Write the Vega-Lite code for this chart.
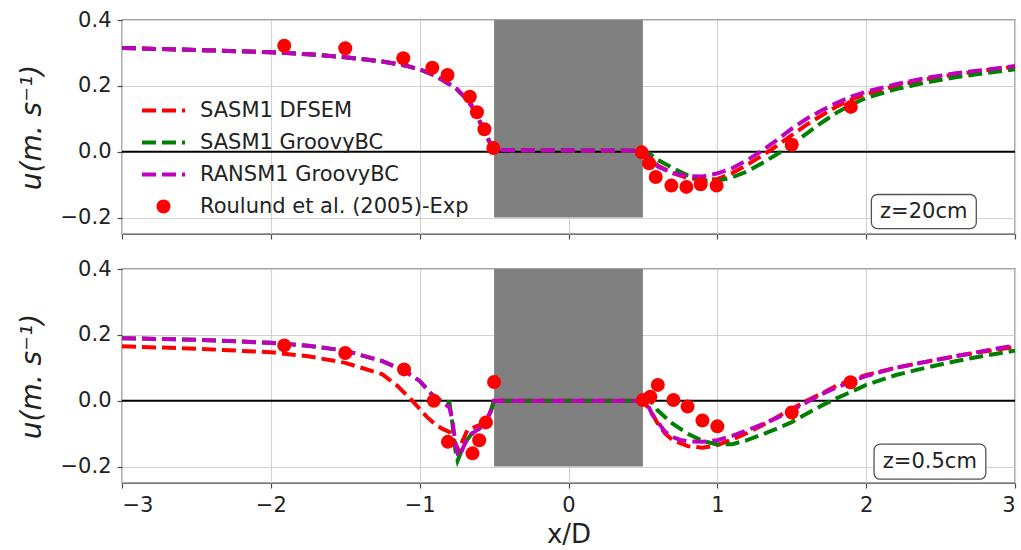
{
  "$schema": "https://vega.github.io/schema/vega-lite/v6.json",
  "autosize": {"type": "pad"},
  "padding": {"left": 17, "top": 8, "right": 0, "bottom": 0},
  "bounds": "flush",
  "spacing": 35,
  "config": {
    "font": "DejaVu Sans",
    "view": {"stroke": "#4a4a4a", "strokeWidth": 1.3},
    "axis": {
      "grid": true,
      "gridColor": "#d2d2d2",
      "gridWidth": 1.2,
      "domain": false,
      "tickColor": "#4a4a4a",
      "tickSize": 5,
      "tickWidth": 1.2,
      "labelFont": "DejaVu Sans",
      "labelFontSize": 21,
      "labelColor": "#222222",
      "labelPadding": 6,
      "titleFont": "DejaVu Sans",
      "titleFontSize": 26,
      "titleFontWeight": "normal",
      "titleColor": "#222222",
      "zindex": 1
    }
  },
  "datasets": {
    "top_note": [{"label": "z=20cm"}],
    "bot_note": [{"label": "z=0.5cm"}],
    "top_lines": [
      {"series": "SASM1 DFSEM", "x": -3, "u": 0.315}, {"series": "SASM1 DFSEM", "x": -2.5, "u": 0.309}, {"series": "SASM1 DFSEM", "x": -2, "u": 0.302}, {"series": "SASM1 DFSEM", "x": -1.75, "u": 0.296}, {"series": "SASM1 DFSEM", "x": -1.5, "u": 0.287}, {"series": "SASM1 DFSEM", "x": -1.25, "u": 0.274}, {"series": "SASM1 DFSEM", "x": -1.1, "u": 0.262}, {"series": "SASM1 DFSEM", "x": -1, "u": 0.25}, {"series": "SASM1 DFSEM", "x": -0.9, "u": 0.232}, {"series": "SASM1 DFSEM", "x": -0.8, "u": 0.205}, {"series": "SASM1 DFSEM", "x": -0.75, "u": 0.19}, {"series": "SASM1 DFSEM", "x": -0.7, "u": 0.167}, {"series": "SASM1 DFSEM", "x": -0.65, "u": 0.139}, {"series": "SASM1 DFSEM", "x": -0.6, "u": 0.095}, {"series": "SASM1 DFSEM", "x": -0.55, "u": 0.048}, {"series": "SASM1 DFSEM", "x": -0.52, "u": 0.02}, {"series": "SASM1 DFSEM", "x": -0.5, "u": 0.005}, {"series": "SASM1 DFSEM", "x": 0.5, "u": 0.003}, {"series": "SASM1 DFSEM", "x": 0.55, "u": -0.02}, {"series": "SASM1 DFSEM", "x": 0.6, "u": -0.042}, {"series": "SASM1 DFSEM", "x": 0.7, "u": -0.065}, {"series": "SASM1 DFSEM", "x": 0.8, "u": -0.08}, {"series": "SASM1 DFSEM", "x": 0.9, "u": -0.085}, {"series": "SASM1 DFSEM", "x": 1.0, "u": -0.083}, {"series": "SASM1 DFSEM", "x": 1.1, "u": -0.065}, {"series": "SASM1 DFSEM", "x": 1.2, "u": -0.04}, {"series": "SASM1 DFSEM", "x": 1.3, "u": -0.012}, {"series": "SASM1 DFSEM", "x": 1.4, "u": 0.018}, {"series": "SASM1 DFSEM", "x": 1.5, "u": 0.05}, {"series": "SASM1 DFSEM", "x": 1.6, "u": 0.082}, {"series": "SASM1 DFSEM", "x": 1.7, "u": 0.11}, {"series": "SASM1 DFSEM", "x": 1.8, "u": 0.137}, {"series": "SASM1 DFSEM", "x": 1.9, "u": 0.158}, {"series": "SASM1 DFSEM", "x": 2.0, "u": 0.175}, {"series": "SASM1 DFSEM", "x": 2.2, "u": 0.2}, {"series": "SASM1 DFSEM", "x": 2.4, "u": 0.22}, {"series": "SASM1 DFSEM", "x": 2.6, "u": 0.235}, {"series": "SASM1 DFSEM", "x": 2.8, "u": 0.247}, {"series": "SASM1 DFSEM", "x": 3.0, "u": 0.258},
      {"series": "SASM1 GroovyBC", "x": -3, "u": 0.315}, {"series": "SASM1 GroovyBC", "x": -2.5, "u": 0.309}, {"series": "SASM1 GroovyBC", "x": -2, "u": 0.302}, {"series": "SASM1 GroovyBC", "x": -1.75, "u": 0.296}, {"series": "SASM1 GroovyBC", "x": -1.5, "u": 0.287}, {"series": "SASM1 GroovyBC", "x": -1.25, "u": 0.274}, {"series": "SASM1 GroovyBC", "x": -1.1, "u": 0.262}, {"series": "SASM1 GroovyBC", "x": -1, "u": 0.25}, {"series": "SASM1 GroovyBC", "x": -0.9, "u": 0.232}, {"series": "SASM1 GroovyBC", "x": -0.8, "u": 0.205}, {"series": "SASM1 GroovyBC", "x": -0.75, "u": 0.19}, {"series": "SASM1 GroovyBC", "x": -0.7, "u": 0.167}, {"series": "SASM1 GroovyBC", "x": -0.65, "u": 0.139}, {"series": "SASM1 GroovyBC", "x": -0.6, "u": 0.095}, {"series": "SASM1 GroovyBC", "x": -0.55, "u": 0.048}, {"series": "SASM1 GroovyBC", "x": -0.52, "u": 0.02}, {"series": "SASM1 GroovyBC", "x": -0.5, "u": 0.005}, {"series": "SASM1 GroovyBC", "x": 0.5, "u": 0.003}, {"series": "SASM1 GroovyBC", "x": 0.55, "u": -0.008}, {"series": "SASM1 GroovyBC", "x": 0.6, "u": -0.025}, {"series": "SASM1 GroovyBC", "x": 0.7, "u": -0.05}, {"series": "SASM1 GroovyBC", "x": 0.8, "u": -0.072}, {"series": "SASM1 GroovyBC", "x": 0.9, "u": -0.087}, {"series": "SASM1 GroovyBC", "x": 1.0, "u": -0.088}, {"series": "SASM1 GroovyBC", "x": 1.1, "u": -0.078}, {"series": "SASM1 GroovyBC", "x": 1.2, "u": -0.06}, {"series": "SASM1 GroovyBC", "x": 1.3, "u": -0.035}, {"series": "SASM1 GroovyBC", "x": 1.4, "u": -0.008}, {"series": "SASM1 GroovyBC", "x": 1.5, "u": 0.022}, {"series": "SASM1 GroovyBC", "x": 1.6, "u": 0.055}, {"series": "SASM1 GroovyBC", "x": 1.7, "u": 0.088}, {"series": "SASM1 GroovyBC", "x": 1.8, "u": 0.118}, {"series": "SASM1 GroovyBC", "x": 1.9, "u": 0.143}, {"series": "SASM1 GroovyBC", "x": 2.0, "u": 0.163}, {"series": "SASM1 GroovyBC", "x": 2.2, "u": 0.19}, {"series": "SASM1 GroovyBC", "x": 2.4, "u": 0.21}, {"series": "SASM1 GroovyBC", "x": 2.6, "u": 0.226}, {"series": "SASM1 GroovyBC", "x": 2.8, "u": 0.239}, {"series": "SASM1 GroovyBC", "x": 3.0, "u": 0.25},
      {"series": "RANSM1 GroovyBC", "x": -3, "u": 0.315}, {"series": "RANSM1 GroovyBC", "x": -2.5, "u": 0.309}, {"series": "RANSM1 GroovyBC", "x": -2, "u": 0.302}, {"series": "RANSM1 GroovyBC", "x": -1.75, "u": 0.296}, {"series": "RANSM1 GroovyBC", "x": -1.5, "u": 0.287}, {"series": "RANSM1 GroovyBC", "x": -1.25, "u": 0.274}, {"series": "RANSM1 GroovyBC", "x": -1.1, "u": 0.262}, {"series": "RANSM1 GroovyBC", "x": -1, "u": 0.25}, {"series": "RANSM1 GroovyBC", "x": -0.9, "u": 0.232}, {"series": "RANSM1 GroovyBC", "x": -0.8, "u": 0.205}, {"series": "RANSM1 GroovyBC", "x": -0.75, "u": 0.19}, {"series": "RANSM1 GroovyBC", "x": -0.7, "u": 0.167}, {"series": "RANSM1 GroovyBC", "x": -0.65, "u": 0.139}, {"series": "RANSM1 GroovyBC", "x": -0.6, "u": 0.095}, {"series": "RANSM1 GroovyBC", "x": -0.55, "u": 0.048}, {"series": "RANSM1 GroovyBC", "x": -0.52, "u": 0.02}, {"series": "RANSM1 GroovyBC", "x": -0.5, "u": 0.005}, {"series": "RANSM1 GroovyBC", "x": 0.5, "u": 0.003}, {"series": "RANSM1 GroovyBC", "x": 0.55, "u": -0.02}, {"series": "RANSM1 GroovyBC", "x": 0.6, "u": -0.045}, {"series": "RANSM1 GroovyBC", "x": 0.7, "u": -0.065}, {"series": "RANSM1 GroovyBC", "x": 0.8, "u": -0.074}, {"series": "RANSM1 GroovyBC", "x": 0.9, "u": -0.075}, {"series": "RANSM1 GroovyBC", "x": 1.0, "u": -0.066}, {"series": "RANSM1 GroovyBC", "x": 1.1, "u": -0.05}, {"series": "RANSM1 GroovyBC", "x": 1.2, "u": -0.026}, {"series": "RANSM1 GroovyBC", "x": 1.3, "u": 0.003}, {"series": "RANSM1 GroovyBC", "x": 1.4, "u": 0.035}, {"series": "RANSM1 GroovyBC", "x": 1.5, "u": 0.07}, {"series": "RANSM1 GroovyBC", "x": 1.6, "u": 0.1}, {"series": "RANSM1 GroovyBC", "x": 1.7, "u": 0.125}, {"series": "RANSM1 GroovyBC", "x": 1.8, "u": 0.148}, {"series": "RANSM1 GroovyBC", "x": 1.9, "u": 0.167}, {"series": "RANSM1 GroovyBC", "x": 2.0, "u": 0.182}, {"series": "RANSM1 GroovyBC", "x": 2.2, "u": 0.205}, {"series": "RANSM1 GroovyBC", "x": 2.4, "u": 0.224}, {"series": "RANSM1 GroovyBC", "x": 2.6, "u": 0.238}, {"series": "RANSM1 GroovyBC", "x": 2.8, "u": 0.249}, {"series": "RANSM1 GroovyBC", "x": 3.0, "u": 0.26}
    ],
    "top_pts": [
      {"series": "Roulund et al. (2005)-Exp", "x": -1.91, "u": 0.322}, {"series": "Roulund et al. (2005)-Exp", "x": -1.5, "u": 0.314}, {"series": "Roulund et al. (2005)-Exp", "x": -1.11, "u": 0.284}, {"series": "Roulund et al. (2005)-Exp", "x": -0.915, "u": 0.255}, {"series": "Roulund et al. (2005)-Exp", "x": -0.813, "u": 0.233}, {"series": "Roulund et al. (2005)-Exp", "x": -0.663, "u": 0.167}, {"series": "Roulund et al. (2005)-Exp", "x": -0.615, "u": 0.12}, {"series": "Roulund et al. (2005)-Exp", "x": -0.565, "u": 0.068}, {"series": "Roulund et al. (2005)-Exp", "x": -0.505, "u": 0.011},
      {"series": "Roulund et al. (2005)-Exp", "x": 0.492, "u": -0.002}, {"series": "Roulund et al. (2005)-Exp", "x": 0.541, "u": -0.035}, {"series": "Roulund et al. (2005)-Exp", "x": 0.586, "u": -0.077}, {"series": "Roulund et al. (2005)-Exp", "x": 0.691, "u": -0.103}, {"series": "Roulund et al. (2005)-Exp", "x": 0.792, "u": -0.107}, {"series": "Roulund et al. (2005)-Exp", "x": 0.888, "u": -0.099}, {"series": "Roulund et al. (2005)-Exp", "x": 0.995, "u": -0.103}, {"series": "Roulund et al. (2005)-Exp", "x": 1.5, "u": 0.021}, {"series": "Roulund et al. (2005)-Exp", "x": 1.897, "u": 0.136}
    ],
    "bot_lines": [
      {"series": "SASM1 DFSEM", "x": -3, "u": 0.165}, {"series": "SASM1 DFSEM", "x": -2.5, "u": 0.158}, {"series": "SASM1 DFSEM", "x": -2, "u": 0.147}, {"series": "SASM1 DFSEM", "x": -1.75, "u": 0.135}, {"series": "SASM1 DFSEM", "x": -1.5, "u": 0.115}, {"series": "SASM1 DFSEM", "x": -1.25, "u": 0.08}, {"series": "SASM1 DFSEM", "x": -1.15, "u": 0.045}, {"series": "SASM1 DFSEM", "x": -1.05, "u": 0.0}, {"series": "SASM1 DFSEM", "x": -0.95, "u": -0.05}, {"series": "SASM1 DFSEM", "x": -0.9, "u": -0.07}, {"series": "SASM1 DFSEM", "x": -0.85, "u": -0.085}, {"series": "SASM1 DFSEM", "x": -0.8, "u": -0.095}, {"series": "SASM1 DFSEM", "x": -0.76, "u": -0.13}, {"series": "SASM1 DFSEM", "x": -0.74, "u": -0.15}, {"series": "SASM1 DFSEM", "x": -0.71, "u": -0.12}, {"series": "SASM1 DFSEM", "x": -0.68, "u": -0.09}, {"series": "SASM1 DFSEM", "x": -0.63, "u": -0.08}, {"series": "SASM1 DFSEM", "x": -0.58, "u": -0.07}, {"series": "SASM1 DFSEM", "x": -0.53, "u": -0.04}, {"series": "SASM1 DFSEM", "x": -0.5, "u": 0.0}, {"series": "SASM1 DFSEM", "x": 0.5, "u": 0.0}, {"series": "SASM1 DFSEM", "x": 0.55, "u": -0.03}, {"series": "SASM1 DFSEM", "x": 0.6, "u": -0.07}, {"series": "SASM1 DFSEM", "x": 0.65, "u": -0.1}, {"series": "SASM1 DFSEM", "x": 0.7, "u": -0.12}, {"series": "SASM1 DFSEM", "x": 0.8, "u": -0.138}, {"series": "SASM1 DFSEM", "x": 0.9, "u": -0.143}, {"series": "SASM1 DFSEM", "x": 1.0, "u": -0.135}, {"series": "SASM1 DFSEM", "x": 1.1, "u": -0.118}, {"series": "SASM1 DFSEM", "x": 1.2, "u": -0.098}, {"series": "SASM1 DFSEM", "x": 1.3, "u": -0.075}, {"series": "SASM1 DFSEM", "x": 1.4, "u": -0.05}, {"series": "SASM1 DFSEM", "x": 1.5, "u": -0.025}, {"series": "SASM1 DFSEM", "x": 1.6, "u": 0.0}, {"series": "SASM1 DFSEM", "x": 1.7, "u": 0.022}, {"series": "SASM1 DFSEM", "x": 1.8, "u": 0.045}, {"series": "SASM1 DFSEM", "x": 1.9, "u": 0.063}, {"series": "SASM1 DFSEM", "x": 2.0, "u": 0.078}, {"series": "SASM1 DFSEM", "x": 2.2, "u": 0.1}, {"series": "SASM1 DFSEM", "x": 2.4, "u": 0.118}, {"series": "SASM1 DFSEM", "x": 2.6, "u": 0.135}, {"series": "SASM1 DFSEM", "x": 2.8, "u": 0.15}, {"series": "SASM1 DFSEM", "x": 3.0, "u": 0.163},
      {"series": "SASM1 GroovyBC", "x": -3, "u": 0.19}, {"series": "SASM1 GroovyBC", "x": -2.5, "u": 0.185}, {"series": "SASM1 GroovyBC", "x": -2, "u": 0.176}, {"series": "SASM1 GroovyBC", "x": -1.75, "u": 0.167}, {"series": "SASM1 GroovyBC", "x": -1.5, "u": 0.152}, {"series": "SASM1 GroovyBC", "x": -1.25, "u": 0.12}, {"series": "SASM1 GroovyBC", "x": -1.1, "u": 0.09}, {"series": "SASM1 GroovyBC", "x": -1.0, "u": 0.06}, {"series": "SASM1 GroovyBC", "x": -0.95, "u": 0.035}, {"series": "SASM1 GroovyBC", "x": -0.9, "u": 0.01}, {"series": "SASM1 GroovyBC", "x": -0.85, "u": 0.0}, {"series": "SASM1 GroovyBC", "x": -0.8, "u": -0.005}, {"series": "SASM1 GroovyBC", "x": -0.78, "u": -0.07}, {"series": "SASM1 GroovyBC", "x": -0.76, "u": -0.15}, {"series": "SASM1 GroovyBC", "x": -0.745, "u": -0.182}, {"series": "SASM1 GroovyBC", "x": -0.73, "u": -0.165}, {"series": "SASM1 GroovyBC", "x": -0.7, "u": -0.13}, {"series": "SASM1 GroovyBC", "x": -0.65, "u": -0.1}, {"series": "SASM1 GroovyBC", "x": -0.6, "u": -0.085}, {"series": "SASM1 GroovyBC", "x": -0.55, "u": -0.06}, {"series": "SASM1 GroovyBC", "x": -0.52, "u": -0.03}, {"series": "SASM1 GroovyBC", "x": -0.5, "u": 0.0}, {"series": "SASM1 GroovyBC", "x": 0.5, "u": 0.0}, {"series": "SASM1 GroovyBC", "x": 0.55, "u": 0.0}, {"series": "SASM1 GroovyBC", "x": 0.6, "u": -0.03}, {"series": "SASM1 GroovyBC", "x": 0.65, "u": -0.05}, {"series": "SASM1 GroovyBC", "x": 0.7, "u": -0.07}, {"series": "SASM1 GroovyBC", "x": 0.8, "u": -0.1}, {"series": "SASM1 GroovyBC", "x": 0.9, "u": -0.122}, {"series": "SASM1 GroovyBC", "x": 1.0, "u": -0.133}, {"series": "SASM1 GroovyBC", "x": 1.1, "u": -0.132}, {"series": "SASM1 GroovyBC", "x": 1.2, "u": -0.12}, {"series": "SASM1 GroovyBC", "x": 1.3, "u": -0.103}, {"series": "SASM1 GroovyBC", "x": 1.4, "u": -0.085}, {"series": "SASM1 GroovyBC", "x": 1.5, "u": -0.065}, {"series": "SASM1 GroovyBC", "x": 1.6, "u": -0.04}, {"series": "SASM1 GroovyBC", "x": 1.7, "u": -0.015}, {"series": "SASM1 GroovyBC", "x": 1.8, "u": 0.007}, {"series": "SASM1 GroovyBC", "x": 1.9, "u": 0.027}, {"series": "SASM1 GroovyBC", "x": 2.0, "u": 0.048}, {"series": "SASM1 GroovyBC", "x": 2.2, "u": 0.078}, {"series": "SASM1 GroovyBC", "x": 2.4, "u": 0.1}, {"series": "SASM1 GroovyBC", "x": 2.6, "u": 0.12}, {"series": "SASM1 GroovyBC", "x": 2.8, "u": 0.137}, {"series": "SASM1 GroovyBC", "x": 3.0, "u": 0.152},
      {"series": "RANSM1 GroovyBC", "x": -3, "u": 0.19}, {"series": "RANSM1 GroovyBC", "x": -2.5, "u": 0.185}, {"series": "RANSM1 GroovyBC", "x": -2, "u": 0.176}, {"series": "RANSM1 GroovyBC", "x": -1.75, "u": 0.167}, {"series": "RANSM1 GroovyBC", "x": -1.5, "u": 0.152}, {"series": "RANSM1 GroovyBC", "x": -1.25, "u": 0.12}, {"series": "RANSM1 GroovyBC", "x": -1.1, "u": 0.09}, {"series": "RANSM1 GroovyBC", "x": -1.0, "u": 0.06}, {"series": "RANSM1 GroovyBC", "x": -0.95, "u": 0.035}, {"series": "RANSM1 GroovyBC", "x": -0.9, "u": 0.01}, {"series": "RANSM1 GroovyBC", "x": -0.85, "u": -0.005}, {"series": "RANSM1 GroovyBC", "x": -0.8, "u": -0.02}, {"series": "RANSM1 GroovyBC", "x": -0.78, "u": -0.06}, {"series": "RANSM1 GroovyBC", "x": -0.76, "u": -0.13}, {"series": "RANSM1 GroovyBC", "x": -0.74, "u": -0.17}, {"series": "RANSM1 GroovyBC", "x": -0.72, "u": -0.155}, {"series": "RANSM1 GroovyBC", "x": -0.69, "u": -0.125}, {"series": "RANSM1 GroovyBC", "x": -0.65, "u": -0.1}, {"series": "RANSM1 GroovyBC", "x": -0.6, "u": -0.085}, {"series": "RANSM1 GroovyBC", "x": -0.55, "u": -0.06}, {"series": "RANSM1 GroovyBC", "x": -0.52, "u": -0.03}, {"series": "RANSM1 GroovyBC", "x": -0.5, "u": 0.0}, {"series": "RANSM1 GroovyBC", "x": 0.5, "u": 0.0}, {"series": "RANSM1 GroovyBC", "x": 0.53, "u": -0.01}, {"series": "RANSM1 GroovyBC", "x": 0.56, "u": -0.04}, {"series": "RANSM1 GroovyBC", "x": 0.6, "u": -0.065}, {"series": "RANSM1 GroovyBC", "x": 0.65, "u": -0.095}, {"series": "RANSM1 GroovyBC", "x": 0.7, "u": -0.11}, {"series": "RANSM1 GroovyBC", "x": 0.75, "u": -0.119}, {"series": "RANSM1 GroovyBC", "x": 0.8, "u": -0.123}, {"series": "RANSM1 GroovyBC", "x": 0.9, "u": -0.125}, {"series": "RANSM1 GroovyBC", "x": 1.0, "u": -0.12}, {"series": "RANSM1 GroovyBC", "x": 1.1, "u": -0.107}, {"series": "RANSM1 GroovyBC", "x": 1.2, "u": -0.09}, {"series": "RANSM1 GroovyBC", "x": 1.3, "u": -0.072}, {"series": "RANSM1 GroovyBC", "x": 1.4, "u": -0.052}, {"series": "RANSM1 GroovyBC", "x": 1.5, "u": -0.03}, {"series": "RANSM1 GroovyBC", "x": 1.6, "u": -0.005}, {"series": "RANSM1 GroovyBC", "x": 1.7, "u": 0.02}, {"series": "RANSM1 GroovyBC", "x": 1.8, "u": 0.04}, {"series": "RANSM1 GroovyBC", "x": 1.9, "u": 0.058}, {"series": "RANSM1 GroovyBC", "x": 2.0, "u": 0.075}, {"series": "RANSM1 GroovyBC", "x": 2.2, "u": 0.1}, {"series": "RANSM1 GroovyBC", "x": 2.4, "u": 0.118}, {"series": "RANSM1 GroovyBC", "x": 2.6, "u": 0.135}, {"series": "RANSM1 GroovyBC", "x": 2.8, "u": 0.152}, {"series": "RANSM1 GroovyBC", "x": 3.0, "u": 0.168}
    ],
    "bot_pts": [
      {"series": "Roulund et al. (2005)-Exp", "x": -1.91, "u": 0.168}, {"series": "Roulund et al. (2005)-Exp", "x": -1.5, "u": 0.145}, {"series": "Roulund et al. (2005)-Exp", "x": -1.105, "u": 0.095}, {"series": "Roulund et al. (2005)-Exp", "x": -0.905, "u": 0.0}, {"series": "Roulund et al. (2005)-Exp", "x": -0.81, "u": -0.125}, {"series": "Roulund et al. (2005)-Exp", "x": -0.645, "u": -0.16}, {"series": "Roulund et al. (2005)-Exp", "x": -0.6, "u": -0.12}, {"series": "Roulund et al. (2005)-Exp", "x": -0.555, "u": -0.066}, {"series": "Roulund et al. (2005)-Exp", "x": -0.5, "u": 0.057},
      {"series": "Roulund et al. (2005)-Exp", "x": 0.5, "u": 0.002}, {"series": "Roulund et al. (2005)-Exp", "x": 0.55, "u": 0.012}, {"series": "Roulund et al. (2005)-Exp", "x": 0.6, "u": 0.048}, {"series": "Roulund et al. (2005)-Exp", "x": 0.705, "u": 0.002}, {"series": "Roulund et al. (2005)-Exp", "x": 0.8, "u": -0.018}, {"series": "Roulund et al. (2005)-Exp", "x": 0.9, "u": -0.06}, {"series": "Roulund et al. (2005)-Exp", "x": 1.0, "u": -0.078}, {"series": "Roulund et al. (2005)-Exp", "x": 1.5, "u": -0.036}, {"series": "Roulund et al. (2005)-Exp", "x": 1.895, "u": 0.056}
    ]
  },
  "vconcat": [
    {
      "width": 893,
      "height": 214,
      "layer": [
        {
          "data": {"name": "top_note"},
          "mark": {"type": "rect", "fill": "#808080"},
          "encoding": {
            "x": {"datum": -0.5, "type": "quantitative", "scale": {"domain": [-3, 3], "nice": false, "zero": false},
                  "axis": {"values": [-3, -2, -1, 0, 1, 2, 3], "labels": false, "title": null}},
            "x2": {"datum": 0.5},
            "y": {"datum": -0.2, "type": "quantitative", "scale": {"domain": [-0.25, 0.4], "nice": false, "zero": false},
                  "axis": {"values": [-0.2, 0, 0.2, 0.4], "format": ".1f", "title": "u(m. s⁻¹)", "titleFontStyle": "italic", "titleFontSize": 28, "titlePadding": 14,
                           "gridOpacity": {"condition": {"test": "datum.value === 0", "value": 0}, "value": 1}}},
            "y2": {"datum": 0.4}
          }
        },
        {
          "data": {"name": "top_note"},
          "mark": {"type": "rule", "color": "black", "strokeWidth": 2},
          "encoding": {"y": {"datum": 0, "type": "quantitative"}}
        },
        {
          "data": {"name": "top_lines"},
          "mark": {"type": "line", "strokeDash": [14, 6], "strokeWidth": 4},
          "encoding": {
            "x": {"field": "x", "type": "quantitative"},
            "y": {"field": "u", "type": "quantitative"},
            "color": {
              "field": "series", "type": "nominal",
              "scale": {"domain": ["SASM1 DFSEM", "SASM1 GroovyBC", "RANSM1 GroovyBC", "Roulund et al. (2005)-Exp"], "range": ["#ff0000", "#008000", "#bf00bf", "#ff0000"]},
              "sort": ["SASM1 DFSEM", "SASM1 GroovyBC", "RANSM1 GroovyBC", "Roulund et al. (2005)-Exp"],
              "legend": {
                "orient": "none", "legendX": 31, "legendY": 80, "title": null, "padding": 0,
                "labelFont": "DejaVu Sans", "labelFontSize": 21, "labelColor": "#222222", "labelLimit": 500,
                "labelOffset": 26, "rowPadding": 10, "symbolSize": 1849, "symbolStrokeWidth": 4,
                "encode": {
                  "symbols": {
                    "update": {
                      "shape": {"signal": "datum.value === 'Roulund et al. (2005)-Exp' ? 'circle' : 'stroke'"},
                      "size": {"signal": "datum.value === 'Roulund et al. (2005)-Exp' ? 196 : 1849"},
                      "strokeDash": {"signal": "datum.value === 'Roulund et al. (2005)-Exp' ? [1, 0] : [14, 6]"},
                      "strokeWidth": {"signal": "datum.value === 'Roulund et al. (2005)-Exp' ? 0 : 4"},
                      "fill": {"signal": "datum.value === 'Roulund et al. (2005)-Exp' ? '#ff0000' : 'transparent'"}
                    }
                  }
                }
              }
            }
          }
        },
        {
          "data": {"name": "top_pts"},
          "mark": {"type": "circle", "size": 196, "opacity": 1},
          "encoding": {
            "x": {"field": "x", "type": "quantitative"},
            "y": {"field": "u", "type": "quantitative"},
            "color": {"field": "series", "type": "nominal"}
          }
        },
        {
          "data": {"name": "top_note"},
          "mark": {"type": "rect", "fill": "white", "stroke": "#555555", "strokeWidth": 1.3, "cornerRadius": 6},
          "encoding": {
            "x": {"datum": 2.035, "type": "quantitative"}, "x2": {"datum": 2.74},
            "y": {"datum": -0.13, "type": "quantitative"}, "y2": {"datum": -0.2335}
          }
        },
        {
          "data": {"name": "top_note"},
          "mark": {"type": "text", "fontSize": 21, "color": "#222222", "font": "DejaVu Sans"},
          "encoding": {
            "x": {"datum": 2.387, "type": "quantitative"},
            "y": {"datum": -0.182, "type": "quantitative"},
            "text": {"field": "label"}
          }
        }
      ]
    },
    {
      "width": 893,
      "height": 214,
      "layer": [
        {
          "data": {"name": "bot_note"},
          "mark": {"type": "rect", "fill": "#808080"},
          "encoding": {
            "x": {"datum": -0.5, "type": "quantitative", "scale": {"domain": [-3, 3], "nice": false, "zero": false},
                  "axis": {"values": [-3, -2, -1, 0, 1, 2, 3], "format": "d", "title": "x/D", "titlePadding": 6}},
            "x2": {"datum": 0.5},
            "y": {"datum": -0.2, "type": "quantitative", "scale": {"domain": [-0.25, 0.4], "nice": false, "zero": false},
                  "axis": {"values": [-0.2, 0, 0.2, 0.4], "format": ".1f", "title": "u(m. s⁻¹)", "titleFontStyle": "italic", "titleFontSize": 28, "titlePadding": 14,
                           "gridOpacity": {"condition": {"test": "datum.value === 0", "value": 0}, "value": 1}}},
            "y2": {"datum": 0.4}
          }
        },
        {
          "data": {"name": "bot_note"},
          "mark": {"type": "rule", "color": "black", "strokeWidth": 2},
          "encoding": {"y": {"datum": 0, "type": "quantitative"}}
        },
        {
          "data": {"name": "bot_lines"},
          "mark": {"type": "line", "strokeDash": [14, 6], "strokeWidth": 4},
          "encoding": {
            "x": {"field": "x", "type": "quantitative"},
            "y": {"field": "u", "type": "quantitative"},
            "color": {
              "field": "series", "type": "nominal",
              "scale": {"domain": ["SASM1 DFSEM", "SASM1 GroovyBC", "RANSM1 GroovyBC", "Roulund et al. (2005)-Exp"], "range": ["#ff0000", "#008000", "#bf00bf", "#ff0000"]},
              "sort": ["SASM1 DFSEM", "SASM1 GroovyBC", "RANSM1 GroovyBC", "Roulund et al. (2005)-Exp"],
              "legend": null
            }
          }
        },
        {
          "data": {"name": "bot_pts"},
          "mark": {"type": "circle", "size": 196, "opacity": 1},
          "encoding": {
            "x": {"field": "x", "type": "quantitative"},
            "y": {"field": "u", "type": "quantitative"},
            "color": {"field": "series", "type": "nominal", "legend": null}
          }
        },
        {
          "data": {"name": "bot_note"},
          "mark": {"type": "rect", "fill": "white", "stroke": "#555555", "strokeWidth": 1.3, "cornerRadius": 6},
          "encoding": {
            "x": {"datum": 2.053, "type": "quantitative"}, "x2": {"datum": 2.804},
            "y": {"datum": -0.132, "type": "quantitative"}, "y2": {"datum": -0.2385}
          }
        },
        {
          "data": {"name": "bot_note"},
          "mark": {"type": "text", "fontSize": 21, "color": "#222222", "font": "DejaVu Sans"},
          "encoding": {
            "x": {"datum": 2.428, "type": "quantitative"},
            "y": {"datum": -0.1855, "type": "quantitative"},
            "text": {"field": "label"}
          }
        }
      ]
    }
  ]
}
